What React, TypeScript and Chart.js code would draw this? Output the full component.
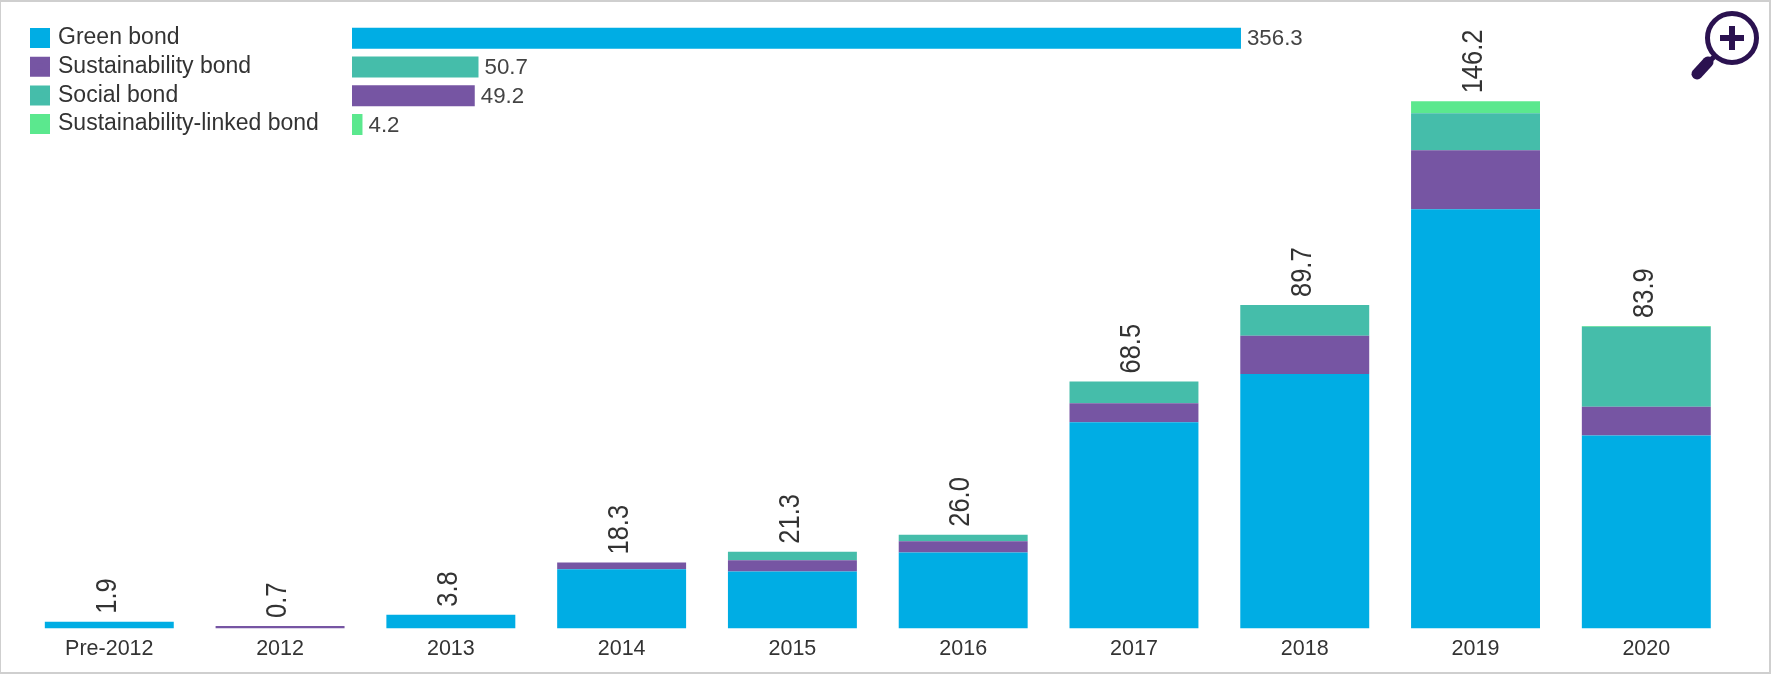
import React, { useEffect, useRef } from "react";
import { Chart, registerables } from "chart.js";

Chart.register(...registerables);

const years = ["Pre-2012", "2012", "2013", "2014", "2015", "2016", "2017", "2018", "2019", "2020"];
const greenBond = [1.9, 0, 3.8, 16.4, 15.8, 21.1, 57.2, 70.6, 116.3, 53.5];
const sustainabilityBond = [0, 0.7, 0, 1.9, 3.1, 3.1, 5.3, 10.6, 16.3, 8.0];
const socialBond = [0, 0, 0, 0, 2.4, 1.8, 6.0, 8.5, 10.3, 22.2];
const linkedBond = [0, 0, 0, 0, 0, 0, 0, 0, 3.3, 0.2];
const totals = [1.9, 0.7, 3.8, 18.3, 21.3, 26.0, 68.5, 89.7, 146.2, 83.9];

const legendNames = ["Green bond", "Sustainability bond", "Social bond", "Sustainability-linked bond"];
const overallValues = [356.3, 50.7, 49.2, 4.2];

const BLUE = "#00ADE4";
const PURPLE = "#7655A3";
const TEAL = "#45BDAA";
const MINT = "#5BE88E";
const legendColours = [BLUE, PURPLE, TEAL, MINT];
const overallColours = [BLUE, TEAL, PURPLE, MINT];
const FONT = '"Liberation Sans", Arial, sans-serif';
const TEXT = "#333333";

const totalLabels = {
  id: "totalLabels",
  afterDatasetsDraw(chart: any) {
    const { ctx, scales } = chart;
    ctx.save();
    ctx.font = `30px ${FONT}`;
    ctx.fillStyle = TEXT;
    ctx.textAlign = "left";
    ctx.textBaseline = "middle";
    totals.forEach((t, i) => {
      ctx.save();
      ctx.translate(scales.x.getPixelForValue(i) - 2, scales.y.getPixelForValue(t) - 8);
      ctx.rotate(-Math.PI / 2);
      ctx.scale(0.85, 1);
      ctx.fillText(t.toFixed(1), 0, 0);
      ctx.restore();
    });
    ctx.restore();
  },
};

const overallLabels = {
  id: "overallLabels",
  afterDatasetsDraw(chart: any) {
    const { ctx, scales } = chart;
    ctx.save();
    ctx.font = `22.3px ${FONT}`;
    ctx.fillStyle = "#444444";
    ctx.textAlign = "left";
    ctx.textBaseline = "middle";
    overallValues.forEach((v, i) => {
      ctx.fillText(v.toFixed(1), scales.x.getPixelForValue(v) + 6, scales.y.getPixelForValue(i) + 1);
    });
    ctx.restore();
  },
};

export default function App() {
  const mainRef = useRef<HTMLCanvasElement>(null);
  const topRef = useRef<HTMLCanvasElement>(null);

  useEffect(() => {
    const seriesStyle = { stack: "a", barPercentage: 0.755, categoryPercentage: 1, borderWidth: 0 };
    const main = new Chart(mainRef.current as any, {
      type: "bar",
      data: {
        labels: years,
        datasets: [
          { label: legendNames[0], data: greenBond, backgroundColor: BLUE, ...seriesStyle },
          { label: legendNames[1], data: sustainabilityBond, backgroundColor: PURPLE, ...seriesStyle },
          { label: legendNames[2], data: socialBond, backgroundColor: TEAL, ...seriesStyle },
          { label: legendNames[3], data: linkedBond, backgroundColor: MINT, ...seriesStyle },
        ],
      },
      options: {
        responsive: false,
        animation: false,
        layout: { padding: { left: 23.9, right: 39.3, top: 15.5, bottom: 0 } },
        plugins: { legend: { display: false }, tooltip: { enabled: false } },
        scales: {
          x: {
            stacked: true,
            grid: { display: false, drawTicks: false },
            border: { display: false },
            ticks: { font: { family: FONT, size: 21.5 }, color: TEXT, padding: 8, maxRotation: 0, autoSkip: false },
            afterFit: (s: any) => { s.height = 45.5; },
          },
          y: { stacked: true, display: false, min: 0, max: 170 },
        },
      } as any,
      plugins: [totalLabels],
    });

    const hiddenAxis = {
      grid: { display: false, drawTicks: false },
      border: { display: false },
      ticks: { display: false },
    };
    const top = new Chart(topRef.current as any, {
      type: "bar",
      data: {
        labels: legendNames,
        datasets: [
          {
            label: "Overall",
            data: overallValues,
            backgroundColor: overallColours,
            barPercentage: 0.73,
            categoryPercentage: 1,
            borderWidth: 0,
          },
        ],
      },
      options: {
        indexAxis: "y",
        responsive: false,
        animation: false,
        layout: { padding: { left: 33.5 - 5.7, right: 421, top: 20.8, bottom: 0 } },
        plugins: {
          tooltip: { enabled: false },
          legend: {
            position: "left",
            align: "start",
            labels: {
              font: { family: FONT, size: 23 },
              color: TEXT,
              boxWidth: 13,
              boxHeight: 13,
              padding: 5.7,
              generateLabels: () =>
                legendNames.map((text, i) => ({
                  text,
                  fillStyle: legendColours[i],
                  strokeStyle: legendColours[i],
                  lineWidth: 7,
                  lineJoin: "miter",
                  fontColor: TEXT,
                  hidden: false,
                  index: i,
                })),
            },
          },
        },
        scales: {
          x: {
            position: "top",
            min: 0,
            max: 400,
            ...hiddenAxis,
            afterFit: (s: any) => { s.height = 3.2; },
          },
          xSpacer: {
            type: "linear",
            axis: "x",
            position: "bottom",
            ...hiddenAxis,
            afterFit: (s: any) => { s.height = 21.2; },
          },
          y: {
            ...hiddenAxis,
            afterFit: (s: any) => { s.width = Math.max(0, 352 - (33.5 - 5.7) - s.chart.legend.width); },
          },
        },
      } as any,
      plugins: [overallLabels],
    });

    return () => {
      main.destroy();
      top.destroy();
    };
  }, []);

  const layer: React.CSSProperties = { position: "absolute", left: 0, top: 0, filter: "blur(0.4px)" };

  return (
    <div style={{ position: "fixed", left: 0, top: 0, width: 1771, height: 674, background: "#fff", overflow: "hidden" }}>
      <canvas ref={mainRef} width={1771} height={674} style={layer} />
      <canvas ref={topRef} width={1771} height={160} style={layer} />
      <svg width={90} height={90} viewBox="0 0 90 90" style={{ position: "absolute", left: 1681, top: 1 }}>
        <circle cx={51} cy={37} r={24.5} fill="none" stroke="#2B1250" strokeWidth={5} />
        <path d="M51 25V49M39 37H63" stroke="#2B1250" strokeWidth={6} fill="none" />
        <path d="M33 56L26 62" stroke="#2B1250" strokeWidth={5} fill="none" />
        <path d="M27 61L16 73" stroke="#2B1250" strokeWidth={11} strokeLinecap="round" fill="none" />
      </svg>
      <div
        style={{
          position: "absolute",
          inset: 0,
          boxSizing: "border-box",
          borderStyle: "solid",
          borderColor: "#cfcfcf",
          borderWidth: "2px 2px 2px 1px",
        }}
      />
    </div>
  );
}
